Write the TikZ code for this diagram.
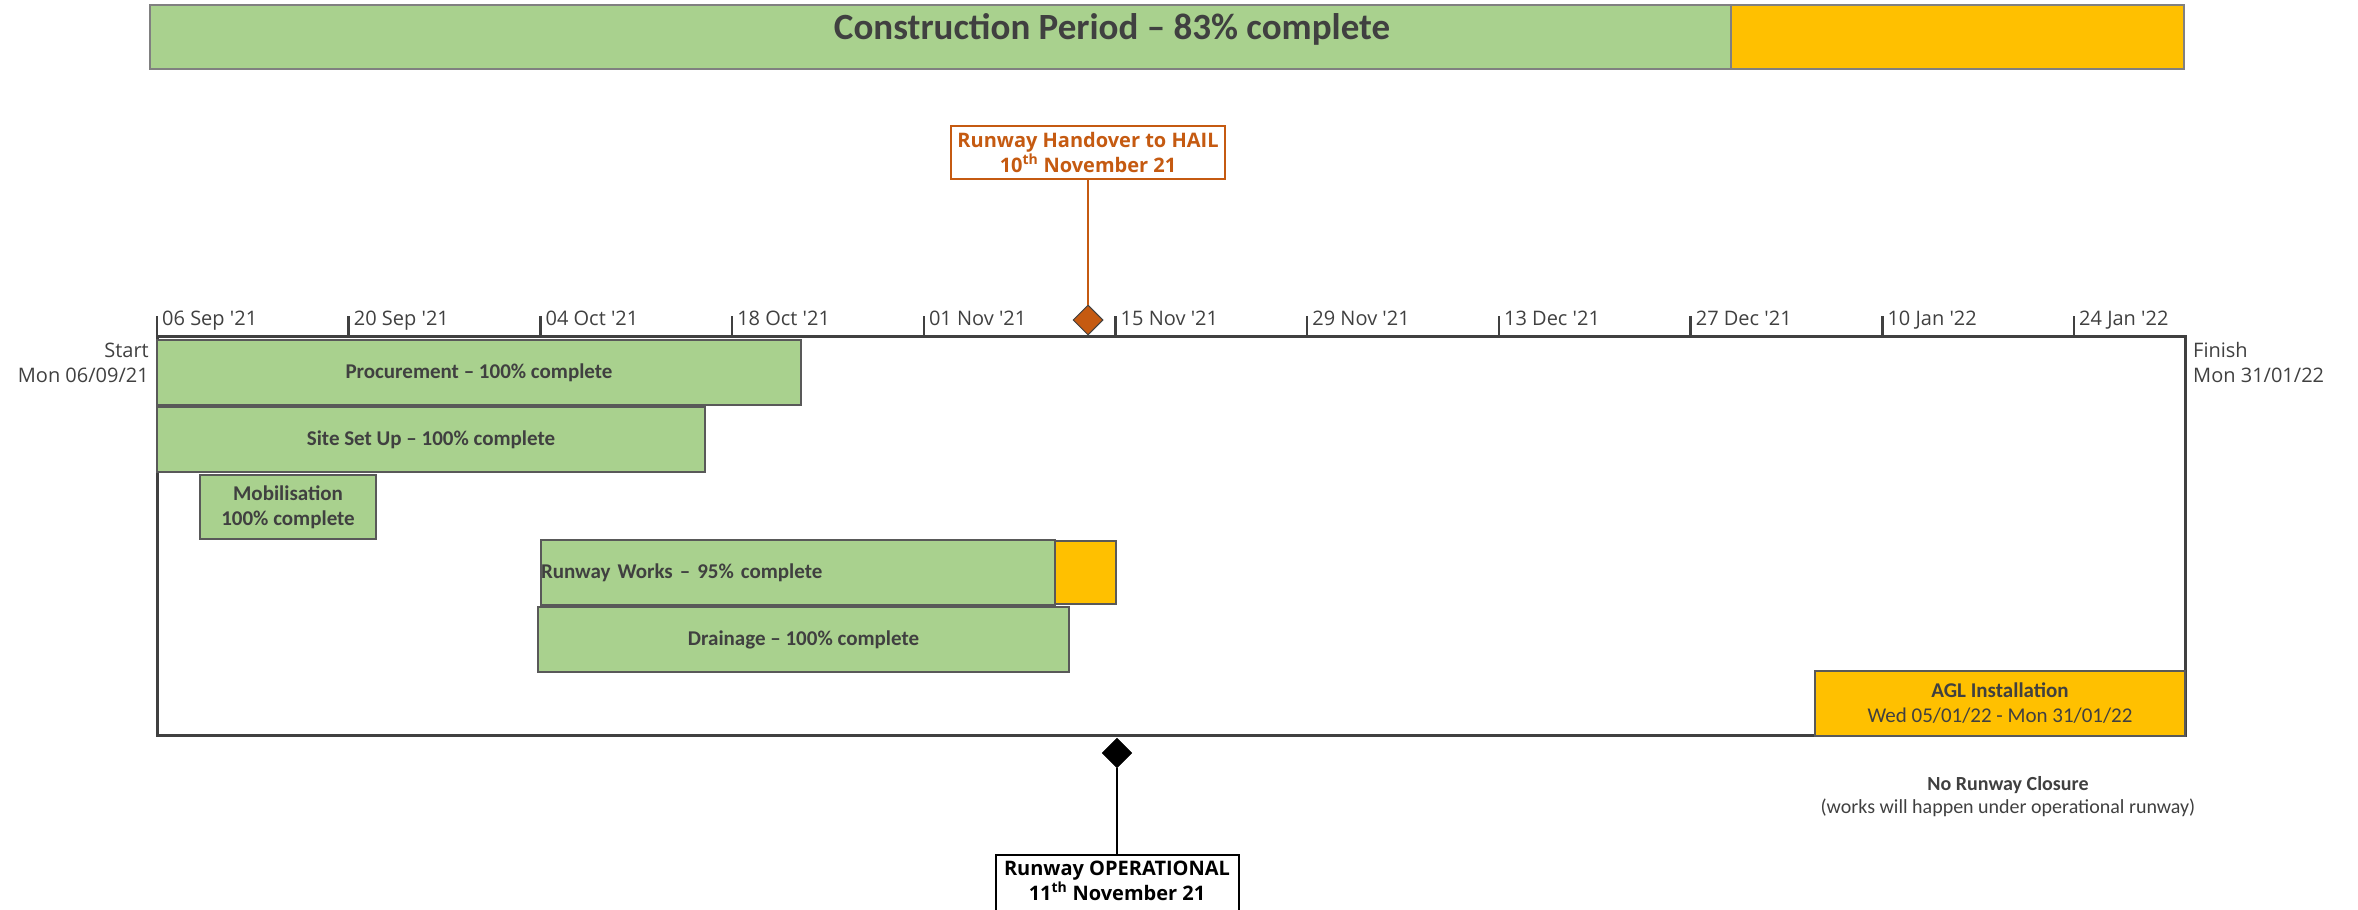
\documentclass[tikz,border=0pt]{standalone}
\usepackage{fontspec}
\setmainfont{Open Sans}
\newfontfamily\calib{Carlito}
\usepackage{tikz}
\usetikzlibrary{shapes,arrows,positioning,fit}

\definecolor{barGreen}{HTML}{A9D18E}
\definecolor{barAmber}{HTML}{FFC000}
\definecolor{txtGrey}{HTML}{404040}
\definecolor{lineGrey}{HTML}{595959}
\definecolor{handOrange}{HTML}{C55A11}

\begin{document}
\begin{tikzpicture}[x=1pt,y=-1pt]
			\tikzstyle{Bar}		= [draw=lineGrey, line width=1.5pt, fill=barGreen, anchor=north west, inner sep=0pt, outer sep=0pt, text=txtGrey, font=\calib\bfseries\fontsize{21}{25}\selectfont, align=center]
			\tikzstyle{Late}	= [fill=barAmber]
			\tikzstyle{Axis}	= [inner sep=0pt, text=txtGrey, font=\fontsize{20}{25}\selectfont]
			\tikzstyle{Tick}	= [line width=2.5pt, draw=txtGrey]
			\tikzstyle{Milestone}	= [diamond, minimum size=30pt, inner sep=0pt]
			\tikzstyle{Callout}	= [draw, line width=2pt, fill=white, inner sep=0pt, font=\bfseries\fontsize{20}{25}\selectfont, align=center]

			\clip (0,0) rectangle (2358,910);

			% construction period
			\node (cpdone) at (150,5) [Bar, draw=gray, minimum width=1581pt, minimum height=64pt] {};
			\node (cpleft) at (1731,5) [Bar, Late, draw=gray, minimum width=453pt, minimum height=64pt] {};
			\node (cptitle) at (1112,39) [anchor=base, inner sep=0pt, text=txtGrey, font=\calib\bfseries\fontsize{37}{44}\selectfont] {Construction Period \textendash{} 83\% complete};

			% timeline
			\draw [line width=3pt, draw=txtGrey] (157,336) rectangle (2185,735);
			\foreach \lbl/\yr [count=\i from 0] in {06 Sep/21, 20 Sep/21, 04 Oct/21, 18 Oct/21, 01 Nov/21, 15 Nov/21, 29 Nov/21, 13 Dec/21, 27 Dec/21, 10 Jan/22, 24 Jan/22}
			{
				\draw [Tick] ({157+191.7*\i},316) -- ({157+191.7*\i},336);
				\node (t\i) at ({162+191.7*\i},325) [Axis, anchor=base west] {\lbl{} \textquotesingle\yr};
			}
			\node (start) at (149,363) [Axis, anchor=east, align=right] {Start\\Mon 06/09/21};
			\node (finish) at (2193,362) [Axis, anchor=west, align=left] {Finish\\Mon 31/01/22};

			% tasks
			\node (proc) at (157,340) [Bar, minimum width=644pt, minimum height=65pt] {Procurement \textendash{} 100\% complete};
			\node (site) at (157,407) [Bar, minimum width=548pt, minimum height=65pt] {Site Set Up \textendash{} 100\% complete};
			\node (mob) at (200,475) [Bar, minimum width=176pt, minimum height=64pt] {Mobilisation\\100\% complete};
			\node (rwy) at (541,540) [Bar, minimum width=514pt, text width=514pt, minimum height=65pt, align=left] {Runway Works \textendash{} 95\% complete};
			\node (rwyleft) at (1055,541) [Bar, Late, minimum width=61pt, minimum height=63pt] {};
			\node (drain) at (538,607) [Bar, minimum width=531pt, minimum height=65pt] {Drainage \textendash{} 100\% complete};
			\node (agl) at (1815,671) [Bar, Late, minimum width=370pt, minimum height=65pt] {AGL Installation\\{\mdseries Wed 05/01/22 - Mon 31/01/22}};
			\node (noclose) at (2008,797) [inner sep=0pt, text=txtGrey, align=center, font=\calib\fontsize{20}{23}\selectfont] {\textbf{No Runway Closure}\\(works will happen under operational runway)};

			% milestones
			\node (hdia) at (1088,320) [Milestone, draw=txtGrey, line width=1pt, fill=handOrange] {};
			\node (hand) at (1088,152.5) [Callout, draw=handOrange, text=handOrange, minimum width=274pt, minimum height=53pt] {Runway Handover to HAIL\\10\textsuperscript{th} November 21};
			\node (odia) at (1117,753) [Milestone, draw=black, fill=black] {};
			\node (oper) at (1117,854) [Callout, anchor=north, minimum width=243pt, minimum height=90pt] {};
			\node (oper1) at (1117,875) [anchor=base, inner sep=0pt, font=\bfseries\fontsize{20}{25}\selectfont] {Runway OPERATIONAL};
			\node (oper2) at (1117,900) [anchor=base, inner sep=0pt, font=\bfseries\fontsize{20}{25}\selectfont] {11\textsuperscript{th} November 21};

			\draw [-] (hand) to (hdia) [draw=handOrange, line width=2.5pt];
			\draw [-] (odia) to (oper) [draw=black, line width=2.5pt];
		\end{tikzpicture}
\end{document}
